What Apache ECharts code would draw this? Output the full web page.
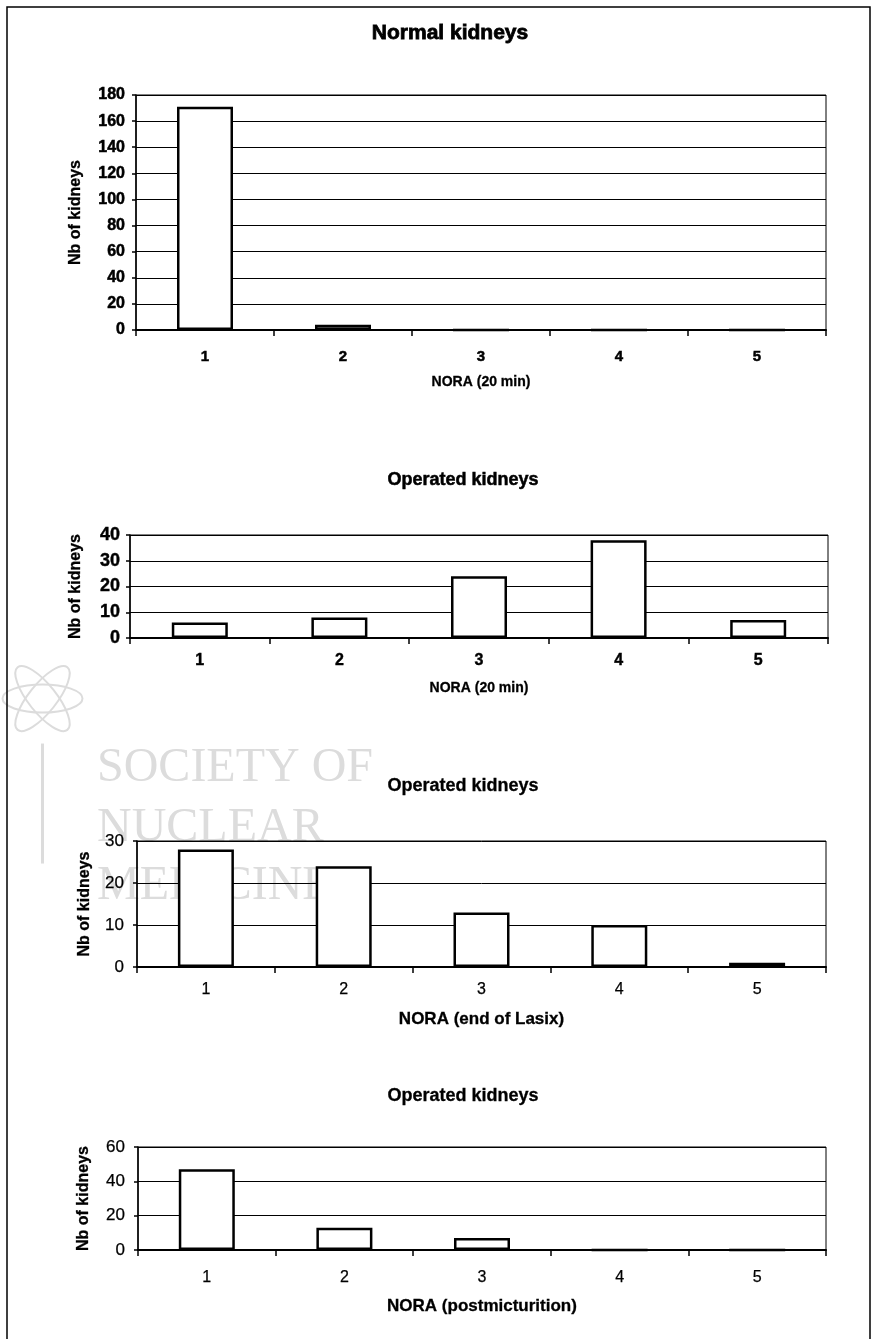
<!DOCTYPE html>
<html>
<head>
<meta charset="utf-8">
<script src="https://cdn.jsdelivr.net/npm/echarts@6/dist/echarts.min.js"></script>
<style>
  html, body { margin: 0; padding: 0; background: #fff; }
  #chart { width: 875px; height: 1339px; }
</style>
</head>
<body>
<div id="chart"></div>
<script>
// NORA class (1-5) counts per kidney group
const categories = ['1', '2', '3', '4', '5'];
const normal20min = [171, 4, 0, 0, 0];
const operated20min = [6, 8, 24, 38, 7];
const operatedEndLasix = [28, 24, 13, 10, 1];
const operatedPostMict = [47, 13, 7, 0, 0];

const panelTitles = ['Normal kidneys', 'Operated kidneys', 'Operated kidneys', 'Operated kidneys'];
const xTitles = ['NORA (20 min)', 'NORA (20 min)', 'NORA (end of Lasix)', 'NORA (postmicturition)'];
const yTitle = 'Nb of kidneys';
const yMax = [180, 40, 30, 60];
const yStep = [20, 10, 10, 20];

const FONT = 'Liberation Sans, Arial, sans-serif';

// layout and type style of each panel
const panels = [
  { left: 136, right: 49, top: 95,   height: 235, titleX: 445, titleTop: 18,   titleSize: 21, titleStroke: 0.8,
    nameGapY: 52, nameGapX: 45, xNameSize: 14, labelMargin: 19, yLabelMargin: 11,
    yTickSize: 16, xTickSize: 15, bold: true, stroke: 0.5 },
  { left: 130, right: 47, top: 535,  height: 103, titleX: 458, titleTop: 466,  titleSize: 18, titleStroke: 0.5,
    nameGapY: 46, nameGapX: 43, xNameSize: 14, labelMargin: 15, yLabelMargin: 10,
    yTickSize: 18, xTickSize: 16, bold: true, stroke: 0.4 },
  { left: 137, right: 49, top: 841,  height: 126, titleX: 458, titleTop: 772,  titleSize: 18, titleStroke: 0.3,
    nameGapY: 44, nameGapX: 44, xNameSize: 17, labelMargin: 15, yLabelMargin: 13,
    yTickSize: 17, xTickSize: 16, bold: false, stroke: 0.25 },
  { left: 138, right: 49, top: 1147, height: 103, titleX: 458, titleTop: 1082, titleSize: 18, titleStroke: 0.3,
    nameGapY: 46, nameGapX: 48, xNameSize: 17, labelMargin: 20, yLabelMargin: 13,
    yTickSize: 17, xTickSize: 16, bold: false, stroke: 0.25 }
];
const seriesData = [normal20min, operated20min, operatedEndLasix, operatedPostMict];

function textStyle(size, bold, stroke) {
  const s = { fontFamily: FONT, fontSize: size, fontWeight: bold ? 'bold' : 'normal', color: '#000' };
  if (stroke) { s.textBorderColor = '#000'; s.textBorderWidth = stroke; }
  return s;
}

const option = {
  animation: false,
  backgroundColor: '#fff',
  title: panels.map((p, i) => ({
    text: panelTitles[i],
    left: p.titleX,
    top: p.titleTop,
    textAlign: 'center',
    textStyle: textStyle(p.titleSize, true, p.titleStroke)
  })),
  grid: panels.map(p => ({
    left: p.left, right: p.right, top: p.top, height: p.height,
    show: true, borderColor: '#000', borderWidth: 1, backgroundColor: 'transparent'
  })),
  xAxis: panels.map((p, i) => ({
    type: 'category',
    gridIndex: i,
    data: categories,
    boundaryGap: true,
    name: xTitles[i],
    nameLocation: 'middle',
    nameGap: p.nameGapX,
    nameTextStyle: textStyle(p.xNameSize, true, 0.3),
    axisLine: { show: true, lineStyle: { color: '#000', width: 2 } },
    axisTick: { show: true, interval: 0, length: 6, lineStyle: { color: '#000', width: 1.5 } },
    axisLabel: Object.assign({ margin: p.labelMargin }, textStyle(p.xTickSize, p.bold, p.stroke)),
    splitLine: { show: false }
  })),
  yAxis: panels.map((p, i) => ({
    type: 'value',
    gridIndex: i,
    min: 0,
    max: yMax[i],
    interval: yStep[i],
    name: yTitle,
    nameLocation: 'middle',
    nameGap: p.nameGapY,
    nameRotate: 90,
    nameTextStyle: textStyle(16, true, 0.3),
    axisLine: { show: true, lineStyle: { color: '#000', width: 1.5 } },
    axisTick: { show: true, length: 4, lineStyle: { color: '#000', width: 1.5 } },
    axisLabel: Object.assign({ margin: p.yLabelMargin }, textStyle(p.yTickSize, p.bold, p.stroke)),
    splitLine: { show: true, lineStyle: { color: '#000', width: 1 } }
  })),
  series: seriesData.map((d, i) => ({
    type: 'bar',
    xAxisIndex: i,
    yAxisIndex: i,
    data: d,
    barWidth: 56,
    z: 3,
    itemStyle: { color: '#fff', borderColor: '#000', borderWidth: 2.5 }
  })),
  graphic: [
    // page frame
    { type: 'rect', shape: { x: 7, y: 7, width: 863, height: 1345 },
      style: { fill: 'none', stroke: '#000', lineWidth: 1.5 }, z: 100 },
    // faint publisher watermark
    { type: 'text', left: 97, top: 744, z: -10,
      style: { text: 'SOCIETY OF', font: '48px "Liberation Serif", "DejaVu Serif", serif', fill: '#dcdcdc' } },
    { type: 'text', left: 97, top: 804, z: -10,
      style: { text: 'NUCLEAR', font: '48px "Liberation Serif", "DejaVu Serif", serif', fill: '#dcdcdc' } },
    { type: 'text', left: 97, top: 862, z: -10,
      style: { text: 'MEDICINE', font: '48px "Liberation Serif", "DejaVu Serif", serif', fill: '#dcdcdc' } },
    { type: 'group', left: 0, top: 655, z: -10, children: [
      { type: 'ellipse', shape: { cx: 45, cy: 95, rx: 40, ry: 14 }, rotation: 0.9, originX: 45, originY: 95,
        style: { fill: 'none', stroke: '#dcdcdc', lineWidth: 2 } },
      { type: 'ellipse', shape: { cx: 45, cy: 95, rx: 40, ry: 14 }, rotation: -0.9, originX: 45, originY: 95,
        style: { fill: 'none', stroke: '#dcdcdc', lineWidth: 2 } },
      { type: 'ellipse', shape: { cx: 45, cy: 95, rx: 40, ry: 14 }, rotation: 0, originX: 45, originY: 95,
        style: { fill: 'none', stroke: '#dcdcdc', lineWidth: 2 } },
      { type: 'line', shape: { x1: 45, y1: 140, x2: 45, y2: 260 },
        style: { stroke: '#dcdcdc', lineWidth: 3 } }
    ] }
  ]
};

const chart = echarts.init(document.getElementById('chart'), null, { renderer: 'canvas' });
chart.setOption(option);
</script>
</body>
</html>
